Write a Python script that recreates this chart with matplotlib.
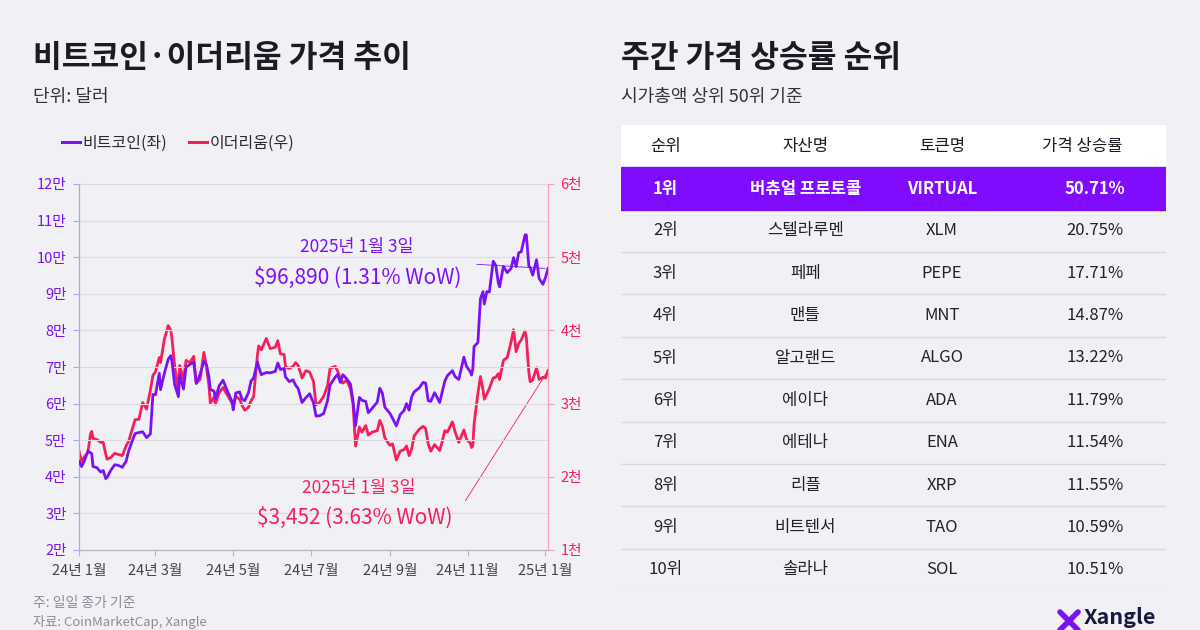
import matplotlib
matplotlib.use("Agg")
import matplotlib.pyplot as plt
from matplotlib.lines import Line2D
import pandas as pd

plt.rcParams['font.family'] = ['Noto Sans CJK KR', 'DejaVu Sans']

# ---- data ----
dates = [
    "2024-01-01", "2024-01-03", "2024-01-05", "2024-01-08", "2024-01-10", "2024-01-11", "2024-01-12",
    "2024-01-15", "2024-01-18", "2024-01-20", "2024-01-22", "2024-01-23", "2024-01-26", "2024-01-29",
    "2024-02-01", "2024-02-04", "2024-02-07", "2024-02-09", "2024-02-12", "2024-02-14", "2024-02-17",
    "2024-02-20", "2024-02-23", "2024-02-26", "2024-02-28", "2024-03-01", "2024-03-04", "2024-03-05",
    "2024-03-08", "2024-03-11", "2024-03-13", "2024-03-14", "2024-03-16", "2024-03-19", "2024-03-20",
    "2024-03-23", "2024-03-25", "2024-03-28", "2024-03-31", "2024-04-02", "2024-04-05", "2024-04-08",
    "2024-04-10", "2024-04-12", "2024-04-13", "2024-04-16", "2024-04-17", "2024-04-20", "2024-04-23",
    "2024-04-26", "2024-04-30", "2024-05-01", "2024-05-03", "2024-05-06", "2024-05-08", "2024-05-10",
    "2024-05-13", "2024-05-15", "2024-05-17", "2024-05-20", "2024-05-21", "2024-05-23", "2024-05-27",
    "2024-05-30", "2024-06-03", "2024-06-05", "2024-06-07", "2024-06-10", "2024-06-11", "2024-06-14",
    "2024-06-17", "2024-06-19", "2024-06-21", "2024-06-24", "2024-06-27", "2024-06-30", "2024-07-03",
    "2024-07-05", "2024-07-08", "2024-07-11", "2024-07-14", "2024-07-16", "2024-07-20", "2024-07-22",
    "2024-07-24", "2024-07-26", "2024-07-29", "2024-08-01", "2024-08-03", "2024-08-05", "2024-08-08",
    "2024-08-10", "2024-08-13", "2024-08-15", "2024-08-18", "2024-08-22", "2024-08-24", "2024-08-26",
    "2024-08-28", "2024-09-01", "2024-09-03", "2024-09-06", "2024-09-09", "2024-09-12", "2024-09-14",
    "2024-09-16", "2024-09-18", "2024-09-20", "2024-09-24", "2024-09-27", "2024-09-29", "2024-10-01",
    "2024-10-03", "2024-10-06", "2024-10-10", "2024-10-12", "2024-10-14", "2024-10-16", "2024-10-20",
    "2024-10-22", "2024-10-25", "2024-10-29", "2024-10-31", "2024-11-03", "2024-11-04", "2024-11-05",
    "2024-11-06", "2024-11-09", "2024-11-11", "2024-11-13", "2024-11-14", "2024-11-16", "2024-11-18",
    "2024-11-21", "2024-11-23", "2024-11-25", "2024-11-26", "2024-11-29", "2024-12-02", "2024-12-05",
    "2024-12-07", "2024-12-09", "2024-12-11", "2024-12-13", "2024-12-16", "2024-12-17", "2024-12-19",
    "2024-12-20", "2024-12-22", "2024-12-25", "2024-12-27", "2024-12-30", "2025-01-01", "2025-01-03",
]
btc = [
    44.2, 42.8, 44.2, 47.0, 46.6, 46.3, 42.8, 42.5, 41.3, 41.7, 39.5, 39.8, 41.8, 43.3,
    43.1, 42.6, 44.3, 47.1, 50.0, 51.8, 52.1, 52.3, 50.7, 51.7, 62.5, 62.4, 68.3, 63.8,
    68.3, 72.1, 73.1, 71.4, 65.3, 61.9, 67.9, 64.0, 70.0, 70.7, 71.3, 65.5, 68.0, 71.6,
    70.6, 67.2, 63.9, 63.4, 61.3, 64.9, 66.4, 63.8, 60.6, 58.3, 62.9, 63.2, 61.2, 60.8,
    63.0, 66.2, 67.0, 71.4, 70.1, 67.9, 68.5, 68.4, 68.8, 71.1, 69.3, 69.6, 67.3, 66.0,
    66.5, 65.0, 64.1, 60.3, 61.6, 62.7, 60.2, 56.6, 56.7, 57.3, 60.8, 65.1, 67.2, 68.0,
    65.8, 67.9, 66.8, 65.3, 60.7, 54.0, 61.7, 60.9, 60.6, 57.5, 58.7, 60.4, 64.2, 62.9,
    59.0, 57.3, 56.0, 53.9, 57.0, 58.1, 60.0, 58.2, 61.8, 63.2, 64.3, 65.8, 65.6, 60.8,
    60.6, 63.0, 60.3, 63.2, 66.1, 67.6, 69.0, 67.4, 66.6, 72.7, 70.2, 68.7, 67.8, 69.5,
    75.6, 76.7, 88.7, 90.6, 87.2, 90.6, 90.5, 98.9, 97.8, 93.0, 91.9, 97.5, 95.8, 96.9,
    99.9, 97.4, 101.2, 101.5, 106.1, 106.1, 97.5, 97.2, 95.1, 99.3, 94.2, 92.6, 94.4, 96.89,
]
eth = [
    2352, 2210, 2268, 2334, 2585, 2620, 2525, 2510, 2470, 2470, 2310, 2240, 2265, 2320,
    2305, 2290, 2425, 2485, 2660, 2780, 2785, 3015, 2925, 3180, 3385, 3435, 3630, 3560,
    3880, 4065, 4005, 3880, 3520, 3160, 3520, 3330, 3590, 3560, 3645, 3280, 3330, 3700,
    3500, 3240, 3010, 3085, 2990, 3150, 3220, 3130, 3010, 2970, 3100, 3060, 2975, 2910,
    2950, 3040, 3095, 3660, 3790, 3735, 3890, 3750, 3770, 3860, 3680, 3670, 3500, 3480,
    3510, 3560, 3520, 3350, 3450, 3430, 3300, 2980, 3020, 3100, 3245, 3480, 3510, 3440,
    3340, 3280, 3320, 3200, 2990, 2420, 2680, 2610, 2700, 2570, 2610, 2630, 2770, 2690,
    2530, 2430, 2450, 2230, 2350, 2370, 2420, 2290, 2380, 2560, 2650, 2690, 2660, 2450,
    2350, 2440, 2360, 2480, 2630, 2610, 2750, 2620, 2470, 2640, 2515, 2460, 2400, 2420,
    2720, 3140, 3370, 3190, 3060, 3130, 3210, 3350, 3360, 3410, 3330, 3590, 3630, 3840,
    4010, 3710, 3820, 3870, 3990, 3900, 3420, 3300, 3320, 3490, 3330, 3360, 3350, 3452,
]
btc_ticks = [20, 30, 40, 50, 60, 70, 80, 90, 100, 110, 120]
btc_tick_labels = ["2만", "3만", "4만", "5만", "6만", "7만", "8만", "9만", "10만", "11만", "12만"]
eth_ticks = [1000, 2000, 3000, 4000, 5000, 6000]
eth_tick_labels = ["1천", "2천", "3천", "4천", "5천", "6천"]
month_ticks = ["2024-01-01", "2024-03-01", "2024-05-01", "2024-07-01", "2024-09-01", "2024-11-01", "2025-01-01"]
month_labels = ["24년 1월", "24년 3월", "24년 5월", "24년 7월", "24년 9월", "24년 11월", "25년 1월"]

ranks = ["1위", "2위", "3위", "4위", "5위", "6위", "7위", "8위", "9위", "10위"]
assets = ["버츄얼 프로토콜", "스텔라루멘", "페페", "맨틀", "알고랜드", "에이다", "에테나", "리플", "비트텐서", "솔라나"]
tokens = ["VIRTUAL", "XLM", "PEPE", "MNT", "ALGO", "ADA", "ENA", "XRP", "TAO", "SOL"]
gains = ["50.71%", "20.75%", "17.71%", "14.87%", "13.22%", "11.79%", "11.54%", "11.55%", "10.59%", "10.51%"]
headers = ["순위", "자산명", "토큰명", "가격 상승률"]

# ---- style ----
BG = "#f1f0f5"
PURPLE = "#7b12f5"
RED = "#f5205a"
DARK = "#1b1b24"
GREY = "#8c8c99"

x = pd.to_datetime(dates)

fig = plt.figure(figsize=(12, 6.3), dpi=100, facecolor=BG)

# ---- left: line chart ----
fig.text(33 / 1200, 1 - 58 / 630, "비트코인·이더리움 가격 추이", fontsize=22.5, fontweight="bold",
         color=DARK, va="center")
fig.text(33 / 1200, 1 - 97 / 630, "단위: 달러", fontsize=13, color="#33333d", va="center")

ax = fig.add_axes([79 / 1200, 80 / 630, 469 / 1200, 366 / 630], facecolor=BG)
ax2 = ax.twinx()

ax.plot(x, btc, color=PURPLE, lw=2.0, zorder=3)
ax2.plot(x, eth, color=RED, lw=2.0, zorder=2)
ax.set_zorder(ax2.get_zorder() + 1)
ax.patch.set_visible(False)
ax2.patch.set_facecolor(BG)

ax.set_xlim(pd.Timestamp("2024-01-01"), pd.Timestamp("2025-01-03"))
ax.set_ylim(20, 120)
ax2.set_ylim(1000, 6000)
ax.set_yticks(btc_ticks)
ax.set_yticklabels(btc_tick_labels)
ax2.set_yticks(eth_ticks)
ax2.set_yticklabels(eth_tick_labels)
ax.set_xticks(pd.to_datetime(month_ticks))
ax.set_xticklabels(month_labels)

ax.grid(axis="y", color="#dcdbe3", lw=0.8)
ax.tick_params(axis="y", colors=PURPLE, labelsize=10.5, length=4, width=0.8, color="#b99cf5", pad=5)
ax2.tick_params(axis="y", colors=RED, labelsize=10.5, length=4, width=0.8, color="#f5a0b8", pad=5)
ax.tick_params(axis="x", colors="#444450", labelsize=10.5, length=4, width=0.8, color="#b5b5c0", pad=6)
for a in (ax, ax2):
    a.spines["top"].set_visible(False)
    a.spines["left"].set_color("#b99cf5")
    a.spines["right"].set_color("#f5a0b8")
    a.spines["bottom"].set_color("#b5b5c0")
    for s in a.spines.values():
        s.set_linewidth(0.8)

# annotations for the last point
ax.annotate("", xy=(x[-1], btc[-1]), xytext=(pd.Timestamp("2024-11-06"), 98.1),
            arrowprops=dict(arrowstyle="-", color=PURPLE, lw=0.6))
ax.text(0.592, 0.828, "2025년 1월 3일", transform=ax.transAxes, color=PURPLE, fontsize=12.5,
        fontweight="medium", ha="center", va="center")
ax.text(0.595, 0.744, "$96,890 (1.31% WoW)", transform=ax.transAxes, color=PURPLE, fontsize=15,
        fontweight="medium", ha="center", va="center")
ax2.annotate("", xy=(x[-1], eth[-1]), xytext=(pd.Timestamp("2024-10-29"), 1640),
             arrowprops=dict(arrowstyle="-", color=RED, lw=0.6))
ax.text(0.597, 0.169, "2025년 1월 3일", transform=ax.transAxes, color=RED, fontsize=12.5,
        fontweight="medium", ha="center", va="center")
ax.text(0.588, 0.087, "$3,452 (3.63% WoW)", transform=ax.transAxes, color=RED, fontsize=15,
        fontweight="medium", ha="center", va="center")

handles = [Line2D([], [], color=PURPLE, lw=2.2), Line2D([], [], color=RED, lw=2.2)]
fig.legend(handles, ["비트코인(좌)", "이더리움(우)"], loc="center left",
           bbox_to_anchor=(48 / 1200, 1 - 143 / 630), ncol=2, frameon=False, fontsize=11.5,
           handlelength=1.1, handletextpad=0.15, columnspacing=1.4, labelcolor="#2a2a33")

fig.text(33 / 1200, 1 - 603 / 630, "주: 일일 종가 기준", fontsize=10, color=GREY, va="center")
fig.text(33 / 1200, 1 - 622 / 630, "자료: CoinMarketCap, Xangle", fontsize=9.5, color=GREY, va="center")

# ---- right: ranking table ----
fig.text(621 / 1200, 1 - 58 / 630, "주간 가격 상승률 순위", fontsize=22.5, fontweight="bold",
         color=DARK, va="center")
fig.text(621 / 1200, 1 - 97 / 630, "시가총액 상위 50위 기준", fontsize=13, color="#33333d", va="center")

tx = fig.add_axes([621 / 1200, 39 / 630, 545 / 1200, 466 / 630])
tx.set_xlim(0, 1)
tx.set_ylim(len(ranks) + 1, 0)
tx.axis("off")
col_x = [0.081, 0.338, 0.589, 0.846]
val_x = [0.081, 0.338, 0.589, 0.870]

tx.axhspan(0, 0.97, color="white", zorder=0)
for j, h in enumerate(headers):
    tx.text(col_x[j], 0.5, h, ha="center", va="center", fontsize=12, color=DARK)

for i in range(len(ranks)):
    yc = i + 1.5
    row = [ranks[i], assets[i], tokens[i], gains[i]]
    if i == 0:
        tx.axhspan(i + 1, i + 2, color="#7f0cff", zorder=0)
        for j, v in enumerate(row):
            tx.text(val_x[j], yc, v, ha="center", va="center", fontsize=12, color="white",
                    fontweight="bold")
    else:
        for j, v in enumerate(row):
            tx.text(val_x[j], yc, v, ha="center", va="center", fontsize=12, color="#22222b")
        tx.axhline(i + 2, color="#d8d7df", lw=1.0)

# logo
fig.add_artist(Line2D([1060 / 1200, 1078 / 1200], [1 - 612 / 630, 1 - 630 / 630], color=PURPLE,
                      lw=4, solid_capstyle="round"))
fig.add_artist(Line2D([1078 / 1200, 1060 / 1200], [1 - 612 / 630, 1 - 630 / 630], color=PURPLE,
                      lw=4, solid_capstyle="round"))
fig.text(1084 / 1200, 1 - 618 / 630, "Xangle", fontsize=15.5, fontweight="bold", color="#1a1a40",
         va="center")

fig.savefig("out.png", dpi=100, facecolor=BG)
